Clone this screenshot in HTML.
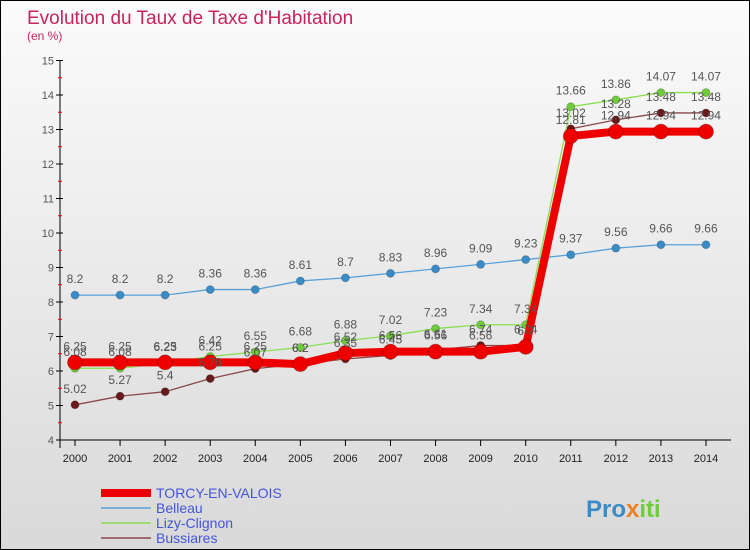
<!DOCTYPE html>
<html><head><meta charset="utf-8"><style>
body{margin:0;}
#wrap{width:748px;height:548px;border:1px solid #000;position:relative;background:linear-gradient(#fbfbfb,#d9d9d9);font-family:"Liberation Sans",sans-serif;overflow:hidden}
</style></head><body>
<div id="wrap">
<svg id="svg" width="748" height="548"></svg>
</div>
<script>
const years=[2000,2001,2002,2003,2004,2005,2006,2007,2008,2009,2010,2011,2012,2013,2014];
const torcy=[6.25,6.25,6.25,6.25,6.25,6.2,6.52,6.56,6.56,6.56,6.7,12.81,12.94,12.94,12.94];
const belleau=[8.2,8.2,8.2,8.36,8.36,8.61,8.7,8.83,8.96,9.09,9.23,9.37,9.56,9.66,9.66];
const lizy=[6.08,6.08,6.23,6.42,6.55,6.68,6.88,7.02,7.23,7.34,7.34,13.66,13.86,14.07,14.07];
const bussiares=[5.02,5.27,5.4,5.78,6.07,6.2,6.35,6.45,6.61,6.74,6.74,13.02,13.28,13.48,13.48];
const yTicks=[4,5,6,7,8,9,10,11,12,13,14,15];
const svg=document.getElementById('svg');const NS='http://www.w3.org/2000/svg';
function X(i){return 74+i*45.07;}
function Y(v){return 439-(v-4)*34.5;}
function mk(t,a,p){const e=document.createElementNS(NS,t);for(const k in a)e.setAttribute(k,a[k]);(p||svg).appendChild(e);return e;}
function txt(x,y,s,a,p){const e=mk('text',Object.assign({x:x,y:y},a),p);e.textContent=s;return e;}
let t=txt(26,23,"Evolution du Taux de Taxe d'Habitation",{fill:'#c8245a','font-size':19});

t=txt(26,39,"(en %)",{fill:'#c8245a','font-size':12});

let ax=mk('line',{x1:59,y1:Y(15),x2:59,y2:Y(4)+8,stroke:'#000'});

ax=mk('line',{x1:59,y1:Y(4),x2:730,y2:Y(4),stroke:'#000'});

yTicks.forEach(v=>{mk('line',{x1:55,y1:Y(v),x2:62,y2:Y(v),stroke:'#000'});
 if(v<15)mk('line',{x1:57,y1:Y(v+0.5),x2:61,y2:Y(v+0.5),stroke:'#e00'});
 const e=txt(53,Y(v)+4,String(v),{fill:'#555','font-size':11,'text-anchor':'end'});
 });
years.forEach((y,i)=>{mk('line',{x1:X(i),y1:Y(4),x2:X(i),y2:Y(4)+6,stroke:'#000'});
 const e=txt(X(i),Y(4)+22,String(y),{fill:'#222','font-size':11,'text-anchor':'middle'});
 });
function series(name,data,color,dot,w,r){
 const g=mk('g',{});
 mk('polyline',{points:data.map((v,i)=>X(i)+','+Y(v)).join(' '),fill:'none',stroke:color,'stroke-width':w},g);
 data.forEach((v,i)=>{const c=mk('circle',{cx:X(i),cy:Y(v),r:r,fill:dot,stroke:'rgba(0,0,0,0.2)'},g);
  });
 return g;}
function labels(name,data){data.forEach((v,i)=>{const e=txt(X(i),Y(v)-12,String(v),{fill:'#555','font-size':12,'text-anchor':'middle'});
 });}
series('belleau',belleau,'#5aa0d8','#3a8cc8',1.3,4);
series('bussiares',bussiares,'#8a4848','#6a1a1a',1.3,4);
series('lizy',lizy,'#88e050','#70cc3a',1.3,4);
series('torcy',torcy,'#ee0000','#ee0000',8,7.5);
labels('belleau',belleau);labels('torcy',torcy);labels('lizy',lizy);labels('bussiares',bussiares);
const legNames=['TORCY-EN-VALOIS','Belleau','Lizy-Clignon','Bussiares'];
const legCol=['#ee0000','#5aa0d8','#88e050','#8a4848'];
legNames.forEach((n,i)=>{const y=492+i*15;const g=mk('g',{});
 
 mk('line',{x1:100,y1:y,x2:150,y2:y,stroke:legCol[i],'stroke-width':i==0?8:1.5},g);
 txt(155,y+5,n,{fill:'#4455dd','font-size':14},g);});
t=mk('text',{x:585,y:516,'font-size':24,'font-weight':'bold'});

[['Pro','#3a8cc8'],['x','#f08020'],['iti','#70cc3a']].forEach(p=>{const s=mk('tspan',{fill:p[1]},t);s.textContent=p[0];});
</script>
</body></html>
